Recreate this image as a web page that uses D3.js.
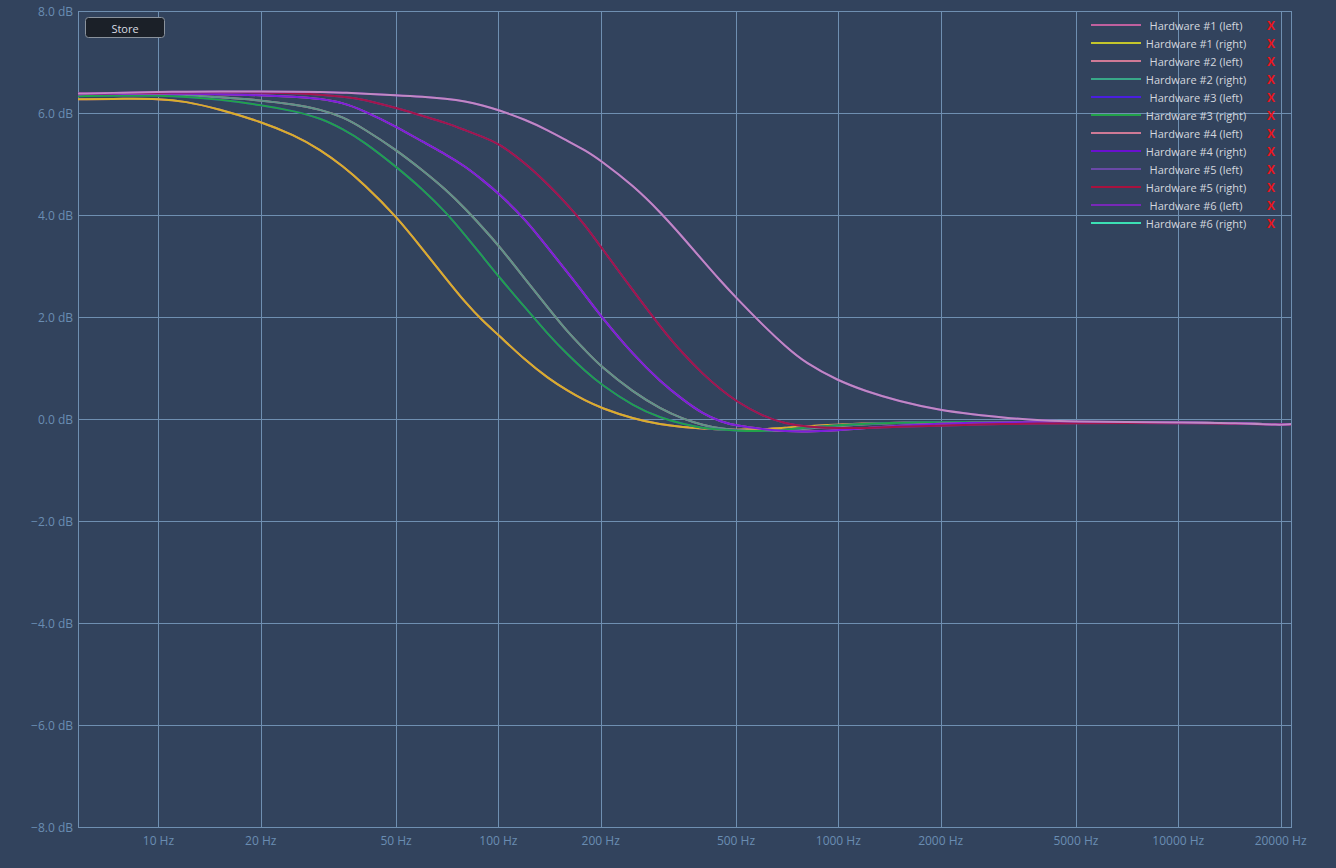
<!DOCTYPE html>
<html>
<head>
<meta charset="utf-8">
<script src="https://cdn.jsdelivr.net/npm/d3@7"></script>
<style>
  html, body { margin: 0; padding: 0; background: #32435d; }
  svg { display: block; }
  text { font-family: "Open Sans", "DejaVu Sans", sans-serif; }
</style>
</head>
<body>
<svg id="chart" width="1336" height="868"></svg>
<script>
// ---------- DATA ----------
const freqs = [5.8, 8, 10, 12, 15, 20, 25, 30, 35, 40, 50, 60, 70, 80, 90, 100, 120, 140, 160, 180, 200, 250, 300, 350, 400, 450, 500, 600, 700, 800, 1000, 1200, 1500, 2000, 2500, 3000, 4000, 5000, 7000, 10000, 15000, 20000, 21460];

const hw1 = [6.27, 6.28, 6.28, 6.23, 6.08, 5.83, 5.57, 5.28, 4.95, 4.62, 3.98, 3.32, 2.76, 2.28, 1.92, 1.65, 1.15, 0.80, 0.55, 0.36, 0.22, 0.00, -0.11, -0.16, -0.19, -0.21, -0.21, -0.20, -0.17, -0.14, -0.11, -0.09, -0.07, -0.06, -0.06, -0.06, -0.06, -0.06, -0.07, -0.07, -0.08, -0.11, -0.10];
const hw2 = [6.35, 6.36, 6.36, 6.35, 6.31, 6.25, 6.17, 6.07, 5.92, 5.70, 5.28, 4.87, 4.50, 4.12, 3.75, 3.41, 2.74, 2.18, 1.70, 1.35, 1.03, 0.52, 0.20, 0.00, -0.12, -0.19, -0.22, -0.24, -0.22, -0.19, -0.14, -0.10, -0.08, -0.06, -0.06, -0.06, -0.06, -0.06, -0.07, -0.07, -0.08, -0.11, -0.10];
const hw3 = [6.33, 6.34, 6.34, 6.32, 6.27, 6.16, 6.04, 5.90, 5.68, 5.45, 4.95, 4.50, 4.06, 3.60, 3.18, 2.80, 2.18, 1.66, 1.26, 0.94, 0.68, 0.25, 0.02, -0.10, -0.18, -0.21, -0.23, -0.24, -0.21, -0.17, -0.12, -0.09, -0.07, -0.06, -0.06, -0.06, -0.06, -0.06, -0.07, -0.07, -0.08, -0.11, -0.10];
const hw4 = [6.37, 6.38, 6.38, 6.38, 6.37, 6.35, 6.32, 6.28, 6.20, 6.05, 5.74, 5.43, 5.19, 4.95, 4.68, 4.43, 3.92, 3.35, 2.87, 2.43, 2.02, 1.25, 0.73, 0.37, 0.10, -0.05, -0.13, -0.20, -0.24, -0.25, -0.22, -0.18, -0.13, -0.09, -0.07, -0.07, -0.06, -0.06, -0.07, -0.07, -0.08, -0.11, -0.10];
const hw5 = [6.38, 6.39, 6.40, 6.40, 6.41, 6.40, 6.39, 6.36, 6.32, 6.27, 6.10, 5.94, 5.81, 5.66, 5.53, 5.41, 5.02, 4.60, 4.20, 3.80, 3.38, 2.50, 1.80, 1.27, 0.88, 0.58, 0.35, 0.05, -0.09, -0.15, -0.18, -0.18, -0.15, -0.13, -0.11, -0.10, -0.09, -0.08, -0.08, -0.08, -0.09, -0.11, -0.11];
const hw6 = [6.38, 6.40, 6.41, 6.42, 6.42, 6.42, 6.42, 6.41, 6.40, 6.38, 6.35, 6.32, 6.28, 6.23, 6.15, 6.06, 5.87, 5.66, 5.45, 5.27, 5.07, 4.57, 4.05, 3.55, 3.10, 2.71, 2.38, 1.84, 1.42, 1.10, 0.75, 0.55, 0.35, 0.17, 0.09, 0.03, -0.03, -0.05, -0.06, -0.07, -0.08, -0.12, -0.10];

const seriesNames = ["Hardware #1 (left)", "Hardware #1 (right)", "Hardware #2 (left)", "Hardware #2 (right)",
  "Hardware #3 (left)", "Hardware #3 (right)", "Hardware #4 (left)", "Hardware #4 (right)",
  "Hardware #5 (left)", "Hardware #5 (right)", "Hardware #6 (left)", "Hardware #6 (right)"];
const seriesValues = [hw1, hw1, hw2, hw2, hw3, hw3, hw4, hw4, hw5, hw5, hw6, hw6];
const legendColors = ["#c0609e", "#c4c62c", "#cf7a96", "#38a888", "#4a1ee0", "#22a248",
  "#cf7a96", "#6a10d0", "#6a48a8", "#a8123e", "#7828b8", "#3ce0b4"];
const lineColors = ["#c0609e", "#d8b02a", "#cf7a96", "#5e9488", "#4a1ee0", "#22a24a",
  "#cf7a96", "#7a1edc", "#6a48a8", "#a3154a", "#7828b8", "#c08ac2"];

const xTicks = [10, 20, 50, 100, 200, 500, 1000, 2000, 5000, 10000, 20000];
const yTicks = [8, 6, 4, 2, 0, -2, -4, -6, -8];

// ---------- CHART ----------
(function () {
const svg = d3.select("#chart");
const pL = 78, pR = 1291, pT = 11, pB = 827;
const x = d3.scaleLog().domain([5.8, 21460]).range([pL, pR]);
const y = d3.scaleLinear().domain([-8, 8]).range([pB, pT]);

svg.append("rect").attr("width", 1336).attr("height", 868).attr("fill", "#32435d");

const gridColor = "#6f8fb1";
svg.append("g").selectAll("line").data(xTicks).join("line")
  .attr("x1", d => Math.round(x(d)) + 0.5).attr("x2", d => Math.round(x(d)) + 0.5)
  .attr("y1", pT).attr("y2", pB)
  .attr("stroke", gridColor).attr("stroke-width", 1);
svg.append("g").selectAll("line").data(yTicks).join("line")
  .attr("x1", pL).attr("x2", pR)
  .attr("y1", d => Math.round(y(d)) + 0.5).attr("y2", d => Math.round(y(d)) + 0.5)
  .attr("stroke", gridColor).attr("stroke-width", 1);
svg.append("rect").attr("x", pL + 0.5).attr("y", pT + 0.5)
  .attr("width", pR - pL).attr("height", pB - pT)
  .attr("fill", "none").attr("stroke", gridColor).attr("stroke-width", 1);

const labelColor = "#6a8db2";
svg.append("g").selectAll("text").data(yTicks).join("text")
  .attr("x", 73).attr("y", d => y(d))
  .attr("text-anchor", "end").attr("dominant-baseline", "central")
  .attr("font-size", 12).attr("fill", labelColor)
  .text(d => d3.format(".1f")(d) + " dB");
svg.append("g").selectAll("text").data(xTicks).join("text")
  .attr("x", d => x(d)).attr("y", 845)
  .attr("text-anchor", "middle")
  .attr("font-size", 12).attr("fill", labelColor)
  .text(d => d + " Hz");

const line = d3.line()
  .x(d => x(d[0]))
  .y(d => y(d[1]))
  .curve(d3.curveBasis);

const plot = svg.append("g");
seriesValues.forEach((vals, i) => {
  const pts = freqs.map((f, k) => [f, vals[k]]);
  plot.append("path")
    .attr("d", line(pts))
    .attr("fill", "none")
    .attr("stroke", lineColors[i])
    .attr("stroke-width", 2)
    .attr("stroke-linejoin", "round");
});

const btn = svg.append("g");
btn.append("rect").attr("x", 85.5).attr("y", 17.5).attr("width", 79).attr("height", 20).attr("rx", 3)
  .attr("fill", "#1b2028").attr("stroke", "#8a929c").attr("stroke-width", 1);
btn.append("text").attr("x", 125).attr("y", 28).attr("text-anchor", "middle")
  .attr("dominant-baseline", "central").attr("font-size", 11).attr("fill", "#d8dce2").text("Store");

const legend = svg.append("g");
seriesNames.forEach((name, i) => {
  const cy = 25 + i * 18;
  legend.append("line").attr("x1", 1091).attr("x2", 1141).attr("y1", cy).attr("y2", cy)
    .attr("stroke", legendColors[i]).attr("stroke-width", 2);
  legend.append("text").attr("x", 1196).attr("y", cy).attr("text-anchor", "middle")
    .attr("dominant-baseline", "central").attr("font-size", 11).attr("fill", "#d3d7dd").text(name);
  legend.append("text").attr("x", 1271).attr("y", cy).attr("text-anchor", "middle")
    .attr("dominant-baseline", "central").attr("font-size", 12).attr("font-weight", "bold")
    .attr("fill", "#e8141c").text("X");
});
})();
</script>
</body>
</html>
